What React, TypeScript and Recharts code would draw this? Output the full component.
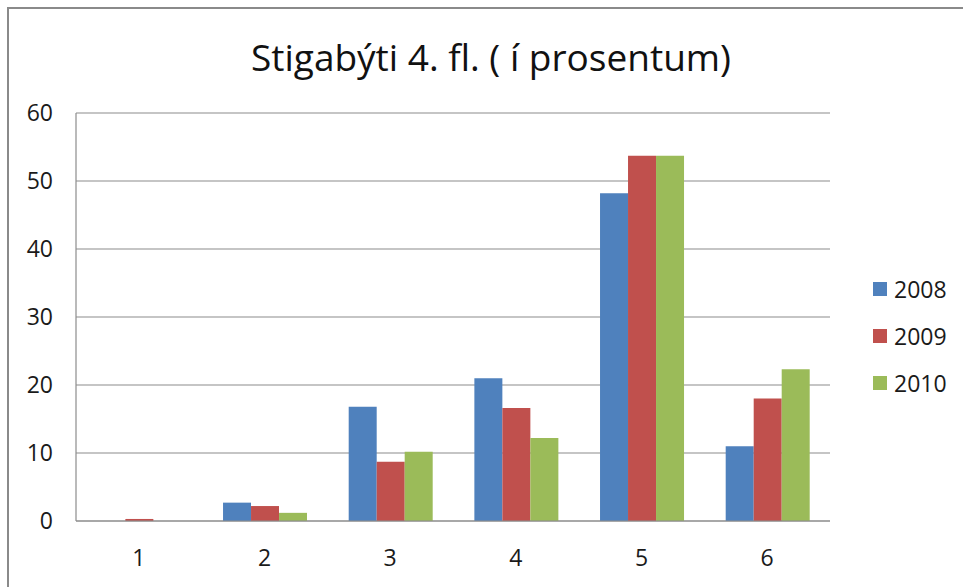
import React from 'react';
import { BarChart, Bar, XAxis, YAxis, CartesianGrid, Legend } from 'recharts';

const categories = ['1', '2', '3', '4', '5', '6'];
const series2008 = [0, 2.7, 16.8, 21.0, 48.2, 11.0];
const series2009 = [0.3, 2.2, 8.7, 16.6, 53.7, 18.0];
const series2010 = [0, 1.2, 10.2, 12.2, 53.7, 22.3];
const yTicks = [0, 10, 20, 30, 40, 50, 60];

const seriesInfo = [
  { key: 'y2008', name: '2008', color: '#4F81BD' },
  { key: 'y2009', name: '2009', color: '#C0504D' },
  { key: 'y2010', name: '2010', color: '#9BBB59' },
];

const data = categories.map((c, i) => ({
  cat: c,
  y2008: series2008[i],
  y2009: series2009[i],
  y2010: series2010[i],
}));

const FONT = '"Open Sans", sans-serif';

const LegendBox = () => (
  <div style={{ fontFamily: FONT }}>
    {seriesInfo.map((s) => (
      <div key={s.key} style={{ display: 'flex', alignItems: 'center', height: 47 }}>
        <span style={{ width: 14, height: 14, background: s.color, marginRight: 7 }} />
        <span style={{ fontSize: 23, color: '#1a1a1a' }}>{s.name}</span>
      </div>
    ))}
  </div>
);

export default function App() {
  return (
    <div style={{ position: 'absolute', left: 0, top: 0, width: 963, height: 587, overflow: 'hidden', background: '#fff' }}>
      <div
        style={{
          position: 'absolute',
          left: 7,
          top: 7,
          width: 1000,
          height: 650,
          border: '2px solid #8a8a8a',
        }}
      />
      <div
        style={{
          position: 'absolute',
          left: 0,
          top: 32,
          width: 982,
          textAlign: 'center',
          fontFamily: FONT,
          fontSize: 37,
          color: '#111',
          lineHeight: '50px',
        }}
      >
        Stigabýti 4. fl. ( í prosentum)
      </div>
      <div style={{ position: 'absolute', left: 0, top: 0 }}>
        <BarChart
          width={963}
          height={587}
          data={data}
          margin={{ top: 113, right: 43, bottom: 0, left: 0 }}
          barCategoryGap="17%"
          barGap={0}
        >
          <CartesianGrid vertical={false} stroke="#8c8c8c" strokeWidth={1.2} />
          <XAxis
            dataKey="cat"
            axisLine={{ stroke: '#8c8c8c', strokeWidth: 1.2 }}
            tickLine={false}
            tickSize={0}
            tickMargin={29}
            height={66}
            tick={{ fill: '#1a1a1a', fontSize: 23, fontFamily: FONT }}
          />
          <YAxis
            width={76}
            domain={[0, 60]}
            ticks={yTicks}
            interval={0}
            axisLine={{ stroke: '#8c8c8c', strokeWidth: 1.2 }}
            tickLine={false}
            tickSize={0}
            tickMargin={23}
            tick={{ fill: '#1a1a1a', fontSize: 23, fontFamily: FONT }}
          />
          <Legend
            layout="vertical"
            verticalAlign="top"
            align="right"
            content={<LegendBox />}
            wrapperStyle={{ left: 873, top: 265, width: 90 }}
          />
          {seriesInfo.map((s) => (
            <Bar key={s.key} dataKey={s.key} name={s.name} fill={s.color} isAnimationActive={false} />
          ))}
        </BarChart>
      </div>
    </div>
  );
}
